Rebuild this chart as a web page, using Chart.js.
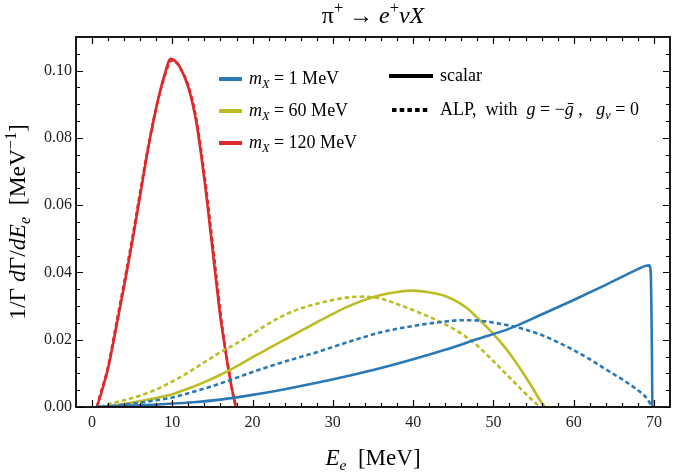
<!DOCTYPE html>
<html>
<head>
<meta charset="utf-8">
<script src="https://cdn.jsdelivr.net/npm/chart.js@4.4.3/dist/chart.umd.min.js"></script>
<style>
  html, body { margin: 0; padding: 0; background: #fff; }
  canvas { display: block; }
</style>
</head>
<body>
<canvas id="spectrum" width="674" height="476"></canvas>
<script>
// values (E_e in MeV, 1/Gamma dGamma/dE_e in MeV^-1)
const scalar1E = [0.5, 2, 5, 8, 10, 13, 16, 20, 24, 28, 32, 36, 40, 44, 48, 52, 56, 60, 64, 68, 69, 69.4, 69.6, 69.75, 69.8];
const scalar1Rate = [0, 0.0001, 0.0004, 0.0007, 0.001, 0.0015, 0.0022, 0.0036, 0.0053, 0.0072, 0.0093, 0.0116, 0.0142, 0.017, 0.0202, 0.0233, 0.0275, 0.0318, 0.0363, 0.041, 0.042, 0.0421, 0.04, 0.015, 0];

const alp1E = [0.5, 2, 4.4, 8, 10, 12.6, 16, 20, 24, 28, 32, 36, 40, 44, 46, 48, 50, 52, 54, 56, 58, 60, 62, 64, 66, 67, 68, 69, 69.8];
const alp1Rate = [0, 0.0002, 0.0008, 0.002, 0.0028, 0.0045, 0.007, 0.0104, 0.0135, 0.0163, 0.0194, 0.0222, 0.0241, 0.0254, 0.0258, 0.0257, 0.0251, 0.0242, 0.023, 0.0214, 0.0193, 0.0169, 0.0142, 0.0112, 0.0083, 0.0067, 0.005, 0.0029, 0];

const scalar60E = [1, 3, 5, 8, 10, 12, 14, 16, 18, 20, 22, 24, 26, 28, 30, 32, 34, 36, 38, 40, 42, 44, 46, 47, 48, 49, 50, 51, 52, 53, 54, 55, 55.8, 56.4];
const scalar60Rate = [0, 0.0005, 0.0013, 0.0027, 0.0038, 0.0055, 0.0074, 0.0096, 0.0121, 0.0148, 0.0174, 0.02, 0.0226, 0.0252, 0.0277, 0.03, 0.0319, 0.0333, 0.0342, 0.0346, 0.0341, 0.033, 0.0306, 0.0288, 0.0265, 0.0242, 0.0217, 0.019, 0.016, 0.0126, 0.009, 0.0052, 0.002, 0];

const alp60E = [1, 2, 4, 6, 8, 10, 12, 14, 16, 18, 20, 22, 24, 26, 28, 30, 32, 34, 36, 38, 40, 42, 44, 46, 48, 50, 52, 54, 55, 55.8];
const alp60Rate = [0, 0.0008, 0.002, 0.0034, 0.0052, 0.0076, 0.0103, 0.0133, 0.0163, 0.0189, 0.0218, 0.0248, 0.0274, 0.0293, 0.0307, 0.0318, 0.0326, 0.0328, 0.0322, 0.0306, 0.0288, 0.0268, 0.0246, 0.0218, 0.0182, 0.0136, 0.0088, 0.004, 0.0017, 0];

const scalar120E = [0.6, 1, 2, 3, 4, 5, 6, 7, 8, 9, 9.8, 10.5, 11, 12, 13, 14, 15, 15.5, 16, 16.5, 17, 17.5, 17.9];
const scalar120Rate = [0, 0.003, 0.0115, 0.0235, 0.036, 0.049, 0.063, 0.077, 0.089, 0.0985, 0.1035, 0.1025, 0.1008, 0.095, 0.0845, 0.0675, 0.047, 0.0365, 0.0265, 0.0185, 0.011, 0.0045, 0];

const alp120E = [0.6, 1, 2, 3, 4, 5, 6, 7, 8, 9, 9.9, 10.6, 11, 12, 13, 14, 15, 15.5, 16, 16.5, 17, 17.5, 17.95];
const alp120Rate = [0, 0.0035, 0.012, 0.0245, 0.037, 0.05, 0.064, 0.0775, 0.089, 0.098, 0.103, 0.1022, 0.1008, 0.0955, 0.0855, 0.069, 0.049, 0.0385, 0.028, 0.019, 0.0115, 0.0045, 0];

const xMajorTicks = [0, 10, 20, 30, 40, 50, 60, 70];
const xMinorTicks = [2, 4, 6, 8, 12, 14, 16, 18, 22, 24, 26, 28, 32, 34, 36, 38, 42, 44, 46, 48, 52, 54, 56, 58, 62, 64, 66, 68];
const yMajorTicks = [0, 0.02, 0.04, 0.06, 0.08, 0.10];
const yMinorTicks = [0.005, 0.01, 0.015, 0.025, 0.03, 0.035, 0.045, 0.05, 0.055, 0.065, 0.07, 0.075, 0.085, 0.09, 0.095, 0.105];

const massLabels = ["1", "60", "120"];
const BLUE = "#2a78b6";
const OLIVE = "#bcbd24";
const RED = "#dc2a2c";
const SERIF = '"Liberation Serif", "DejaVu Serif", serif';

function toPoints(energies, rates) {
  return energies.map((e, i) => ({ x: e, y: rates[i] }));
}

function curve(energies, rates, color, dashed) {
  return {
    data: toPoints(energies, rates),
    borderColor: color,
    borderWidth: 2.6,
    borderDash: dashed ? [4.5, 3] : [],
    pointRadius: 0,
    fill: false,
    cubicInterpolationMode: "monotone",
  };
}

// draws a run of text pieces: [text, italic?, "sub"|"sup"|undefined]
function richWidth(ctx, parts, size) {
  let w = 0;
  for (const [text, italic, shift] of parts) {
    const s = shift ? size * 0.68 : size;
    ctx.font = `${italic ? "italic " : ""}${s}px ${SERIF}`;
    w += ctx.measureText(text).width;
  }
  return w;
}

function drawRich(ctx, parts, x, y, size, align = "left") {
  let cx = align === "center" ? x - richWidth(ctx, parts, size) / 2 : x;
  ctx.textAlign = "left";
  ctx.textBaseline = "alphabetic";
  for (const [text, italic, shift] of parts) {
    const s = shift ? size * 0.68 : size;
    ctx.font = `${italic ? "italic " : ""}${s}px ${SERIF}`;
    let dy = 0;
    if (shift === "sub") dy = size * 0.22;
    if (shift === "sup") dy = -size * 0.4;
    ctx.fillText(text, cx, y + dy);
    cx += ctx.measureText(text).width;
  }
}

const framePlugin = {
  id: "frame",
  afterDraw(chart) {
    const { ctx, chartArea: a, scales } = chart;
    const xs = scales.x;
    const ys = scales.y;
    ctx.save();
    ctx.strokeStyle = "#000";
    ctx.lineWidth = 1.2;
    ctx.beginPath();
    const tick = (values, len) => {
      for (const v of values) {
        const px = Math.round(xs.getPixelForValue(v)) + 0.5;
        ctx.moveTo(px, a.bottom);
        ctx.lineTo(px, a.bottom - len);
        ctx.moveTo(px, a.top);
        ctx.lineTo(px, a.top + len);
      }
    };
    const ytick = (values, len) => {
      for (const v of values) {
        const py = Math.round(ys.getPixelForValue(v)) + 0.5;
        ctx.moveTo(a.left, py);
        ctx.lineTo(a.left + len, py);
        ctx.moveTo(a.right, py);
        ctx.lineTo(a.right - len, py);
      }
    };
    tick(xMajorTicks, 7);
    tick(xMinorTicks, 4);
    ytick(yMajorTicks, 7);
    ytick(yMinorTicks, 4);
    ctx.stroke();
    ctx.lineWidth = 1.8;
    ctx.strokeRect(a.left, a.top, a.right - a.left, a.bottom - a.top);

    ctx.fillStyle = "#000";
    // title
    drawRich(ctx, [["π", false], ["+", false, "sup"], [" → ", false], ["e", true], ["+", false, "sup"], ["νX", true]],
      (a.left + a.right) / 2, 23, 24, "center");
    // x label
    drawRich(ctx, [["E", true], ["e", true, "sub"], ["  [MeV]", false]], (a.left + a.right) / 2, 465, 23, "center");
    // y label
    ctx.save();
    ctx.translate(25, (a.top + a.bottom) / 2);
    ctx.rotate(-Math.PI / 2);
    drawRich(ctx, [["1/Γ ", false], ["d", true], ["Γ/", false], ["dE", true], ["e", true, "sub"], ["  [MeV", false], ["−1", false, "sup"], ["]", false]],
      0, 0, 23.5, "center");
    ctx.restore();

    // legend: masses
    const colors = [BLUE, OLIVE, RED];
    const rowY = [79, 111, 143];
    ctx.lineWidth = 4;
    massLabels.forEach((m, i) => {
      ctx.strokeStyle = colors[i];
      ctx.beginPath();
      ctx.moveTo(219, rowY[i]);
      ctx.lineTo(242, rowY[i]);
      ctx.stroke();
      ctx.fillStyle = "#000";
      drawRich(ctx, [["m", true], ["X", true, "sub"], [` = ${m} MeV`, false]], 249, rowY[i] + 5, 18);
    });
    // legend: line styles
    ctx.strokeStyle = "#000";
    ctx.beginPath();
    ctx.moveTo(389, 76);
    ctx.lineTo(433, 76);
    ctx.stroke();
    ctx.setLineDash([4.5, 3.2]);
    ctx.beginPath();
    ctx.moveTo(392, 110);
    ctx.lineTo(430, 110);
    ctx.stroke();
    ctx.setLineDash([]);
    drawRich(ctx, [["scalar", false]], 440, 81, 18);
    drawRich(ctx, [["ALP,  with  ", false], ["g", true], [" = −", false], ["g\u0304", true], [" ,   ", false], ["g", true], ["ν", true, "sub"], [" = 0", false]],
      440, 115, 18);
    ctx.restore();
  },
};

new Chart(document.getElementById("spectrum"), {
  type: "line",
  data: {
    datasets: [
      curve(scalar1E, scalar1Rate, BLUE, false),
      curve(alp1E, alp1Rate, BLUE, true),
      curve(scalar60E, scalar60Rate, OLIVE, false),
      curve(alp60E, alp60Rate, OLIVE, true),
      curve(alp120E, alp120Rate, RED, true),
      curve(scalar120E, scalar120Rate, RED, false),
    ],
  },
  options: {
    responsive: false,
    animation: false,
    devicePixelRatio: 1,
    layout: { padding: { top: 37, right: 4, left: 0, bottom: 0 } },
    scales: {
      x: {
        type: "linear",
        min: -2,
        max: 72,
        afterBuildTicks(scale) {
          scale.ticks = xMajorTicks.map((v) => ({ value: v }));
        },
        afterFit(scale) {
          scale.height = 69;
        },
        grid: { display: false, drawTicks: false },
        border: { display: false },
        ticks: {
          color: "#222",
          padding: 6,
          maxRotation: 0,
          font: { family: SERIF, size: 16 },
        },
      },
      y: {
        min: 0,
        max: 0.11,
        afterBuildTicks(scale) {
          scale.ticks = yMajorTicks.map((v) => ({ value: v }));
        },
        afterFit(scale) {
          scale.width = 76;
        },
        grid: { display: false, drawTicks: false },
        border: { display: false },
        ticks: {
          color: "#222",
          padding: 4,
          font: { family: SERIF, size: 16 },
          callback(value) {
            return value.toFixed(2);
          },
        },
      },
    },
    plugins: {
      legend: { display: false },
      tooltip: { enabled: false },
    },
  },
  plugins: [framePlugin],
});
</script>
</body>
</html>
